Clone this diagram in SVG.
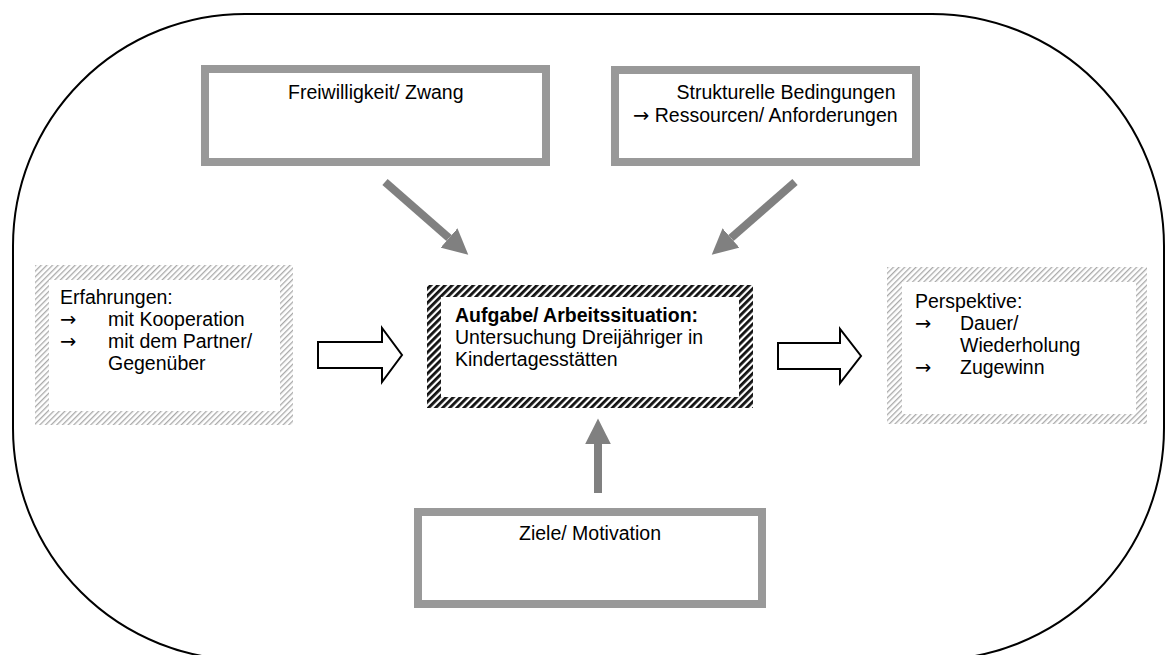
<svg xmlns="http://www.w3.org/2000/svg" width="1167" height="655" viewBox="0 0 1167 655">
<defs>
<pattern id="hatchDark" patternUnits="userSpaceOnUse" width="5" height="5" patternTransform="rotate(45)">
<rect width="5" height="5" fill="#fff"/>
<rect width="2.8" height="5" fill="#111"/>
</pattern>
<pattern id="hatchLight" patternUnits="userSpaceOnUse" width="4" height="4" patternTransform="rotate(45)">
<rect width="4" height="4" fill="#fff"/>
<rect width="1.3" height="4" fill="#aaa"/>
</pattern>
<marker id="grayHead" viewBox="0 0 10 10" refX="0" refY="5" markerWidth="3.2" markerHeight="3.2" markerUnits="strokeWidth" orient="auto">
<path d="M0,0 L10,5 L0,10 Z" fill="#808080"/>
</marker>
</defs>
<style>
text{font-family:"Liberation Sans",Arial,"DejaVu Sans",sans-serif;font-size:19.5px;fill:#000}
.b{font-weight:bold}
.ar{font-family:"DejaVu Sans",sans-serif;font-size:19.5px}
.gbox{fill:#fff;stroke:#999;stroke-width:8}
.garrow{stroke:#808080;stroke-width:8;fill:none}
.warrow{fill:#fff;stroke:#000;stroke-width:2;stroke-linejoin:miter}
</style>
<rect id="frame" x="13" y="14" width="1151" height="646" rx="232" ry="232" fill="#fff" stroke="#000" stroke-width="2"/>

<g id="freiwilligkeit">
<rect class="gbox" x="205" y="69" width="341" height="93"/>
<text x="288" y="99">Freiwilligkeit/ Zwang</text>
</g>

<g id="strukturelle">
<rect class="gbox" x="615" y="70" width="301" height="92"/>
<text x="786" y="99" text-anchor="middle">Strukturelle Bedingungen</text>
<text x="633" y="122"><tspan class="ar">→</tspan> Ressourcen/ Anforderungen</text>
</g>

<g id="erfahrungen">
<rect x="35" y="265" width="258" height="160" fill="url(#hatchLight)"/>
<rect x="49" y="280" width="231" height="131" fill="#fff"/>
<text x="60" y="304">Erfahrungen:</text>
<text x="60" y="326" class="ar">→</text>
<text x="108" y="326">mit Kooperation</text>
<text x="60" y="348" class="ar">→</text>
<text x="108" y="348">mit dem Partner/</text>
<text x="108" y="370">Gegenüber</text>
</g>

<g id="aufgabe">
<rect x="427" y="285" width="326" height="123" fill="url(#hatchDark)"/>
<rect x="441" y="297" width="298" height="100" fill="#fff"/>
<text x="455" y="322" class="b">Aufgabe/ Arbeitssituation:</text>
<text x="455" y="344">Untersuchung Dreijähriger in</text>
<text x="455" y="366">Kindertagesstätten</text>
</g>

<g id="perspektive">
<rect x="887" y="267" width="260" height="157" fill="url(#hatchLight)"/>
<rect x="902" y="282" width="234" height="132" fill="#fff"/>
<text x="915" y="308">Perspektive:</text>
<text x="915" y="330" class="ar">→</text>
<text x="960" y="330">Dauer/</text>
<text x="960" y="352">Wiederholung</text>
<text x="915" y="374" class="ar">→</text>
<text x="960" y="374">Zugewinn</text>
</g>

<g id="ziele">
<rect class="gbox" x="418" y="512" width="344" height="92"/>
<text x="590" y="540" text-anchor="middle">Ziele/ Motivation</text>
</g>

<g id="connectors">
<line class="garrow" x1="385" y1="182" x2="449" y2="238" marker-end="url(#grayHead)"/>
<line class="garrow" x1="795" y1="182" x2="731" y2="238" marker-end="url(#grayHead)"/>
<line class="garrow" x1="598" y1="493" x2="598" y2="444" marker-end="url(#grayHead)"/>
<path class="warrow" d="M318,342 L382,342 L382,328 L402,355 L382,382 L382,368 L318,368 Z"/>
<path class="warrow" d="M778,343 L840,343 L840,329 L861,356 L840,383 L840,369 L778,369 Z"/>
</g>
</svg>
